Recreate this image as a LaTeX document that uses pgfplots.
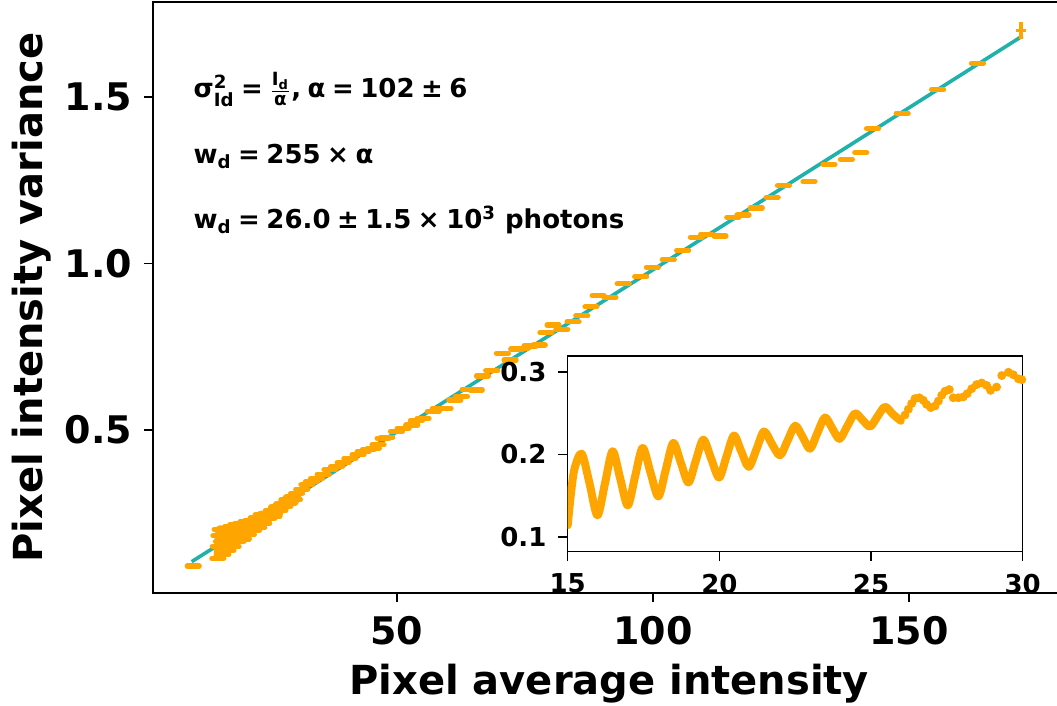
\documentclass[border=0pt]{standalone}
\usepackage{pgfplots}
\pgfplotsset{compat=1.18}
\usepackage{pgfplotstable}
\usepackage{amsmath}
\usepackage{fontspec}
\setmainfont{DejaVu Sans}
\usetikzlibrary{calc}
\definecolor{dataorange}{RGB}{255,165,0}
\definecolor{fitteal}{RGB}{32,178,170}
\newcommand{\gp}{\hspace{0.25em}}

\pgfplotstableread{
x y
10.2 0.091
28.5 0.290
29.5 0.298
30.4 0.310
31.4 0.322
32.4 0.335
33.3 0.345
34.3 0.355
35.6 0.367
36.9 0.380
38.2 0.390
39.5 0.402
40.8 0.415
42.4 0.425
43.4 0.435
44.4 0.440
45.4 0.445
46.3 0.455
47.3 0.475
48.0 0.478
49.9 0.495
51.2 0.505
52.9 0.515
53.8 0.528
55.1 0.535
57.1 0.555
58.1 0.565
59.4 0.565
61.3 0.590
62.6 0.600
63.9 0.622
65.5 0.620
66.7 0.662
68.5 0.678
70.6 0.730
72.1 0.710
73.4 0.743
74.4 0.745
76.0 0.752
77.8 0.755
79.1 0.792
80.5 0.815
82.2 0.802
84.4 0.825
86.1 0.843
87.9 0.870
89.3 0.903
91.6 0.899
94.2 0.939
97.6 0.960
99.9 0.989
103.0 1.011
105.8 1.039
108.5 1.079
110.5 1.088
113.1 1.083
115.6 1.139
117.6 1.146
120.2 1.167
123.3 1.199
125.5 1.234
130.5 1.246
134.4 1.298
137.8 1.313
140.6 1.333
142.9 1.405
148.7 1.452
155.6 1.522
163.4 1.602
}\mainpts

\pgfplotstableread{
x y
15.00 0.114
15.10 0.150
15.22 0.182
15.46 0.201
15.72 0.165
15.98 0.126
16.23 0.165
16.48 0.204
16.73 0.171
16.98 0.138
17.22 0.173
17.47 0.208
17.73 0.178
17.99 0.149
18.23 0.181
18.48 0.214
18.73 0.190
18.98 0.166
19.22 0.192
19.47 0.218
19.73 0.195
19.99 0.172
20.23 0.197
20.48 0.223
20.72 0.204
20.97 0.185
21.22 0.206
21.47 0.228
21.73 0.213
22.00 0.199
22.25 0.217
22.50 0.235
22.75 0.221
22.99 0.207
23.23 0.226
23.48 0.245
23.72 0.232
23.96 0.219
24.21 0.234
24.47 0.250
24.72 0.242
24.97 0.234
25.21 0.246
25.46 0.258
25.72 0.249
25.98 0.241
}\osc

\pgfplotstableread{
x y
26.12 0.248
26.23 0.255
26.34 0.262
26.45 0.268
26.59 0.269
26.72 0.266
26.83 0.261
26.97 0.257
27.11 0.259
27.22 0.265
27.33 0.272
27.44 0.277
27.58 0.279
27.71 0.269
27.88 0.269
28.04 0.270
28.17 0.274
28.32 0.280
28.48 0.285
28.65 0.287
28.81 0.284
28.94 0.278
29.14 0.282
29.31 0.296
29.53 0.300
29.69 0.297
29.86 0.292
29.97 0.291
}\oscb

\begin{document}
\begin{tikzpicture}
\begin{axis}[
  name=main,
  scale only axis,
  width=455.85pt, height=295.65pt,
  xmin=2.4, xmax=180.5, ymin=0.009, ymax=1.786,
  xtick={50,100,150}, ytick={0.5,1,1.5},
  yticklabel style={xshift=-2.5pt, /pgf/number format/.cd, fixed, fixed zerofill, precision=1},
  xticklabel style={yshift=-3.5pt},
  /pgf/number format/assume math mode=true,
  tick align=outside, tick pos=left,
  major tick length=4.6pt,
  axis line style={line width=0.8pt},
  every tick/.style={black, line width=0.8pt},
  ticklabel style={font=\fontsize{19}{23}\selectfont\bfseries},
  xlabel={Pixel average intensity},
  ylabel={Pixel intensity variance},
  every axis x label/.style={at={(axis description cs:0.5,-0.172)}, anchor=base, font=\fontsize{20}{24}\selectfont\bfseries},
  every axis y label/.style={at={(axis description cs:-0.122,0.5)}, anchor=base, rotate=90, font=\fontsize{20}{24}\selectfont\bfseries},
]
\addplot[fitteal, line width=1.8pt] coordinates {(9.9,0.104) (172.2,1.684)};
\addplot[dataorange, line width=4.2pt, line join=round, mark=-, mark size=3pt, mark options={line width=2.6pt, line cap=round}] table {\osc};
\addplot[dataorange, only marks, mark=-, mark size=3pt, mark options={line width=2.6pt, line cap=round}] table {\oscb};
\addplot[dataorange, only marks, mark=-, mark size=3pt, mark options={line width=2.6pt, line cap=round}] table {\mainpts};
\addplot[dataorange, only marks, mark=-, mark size=2.5pt, mark options={line width=1.5pt},
  error bars/.cd, y dir=both, y explicit, error bar style={line width=1.5pt},
  error mark options={mark size=3pt, line width=1.8pt}]
  coordinates {(171.9,1.700) +- (0,0.008)};
\node[anchor=base west, inner sep=0pt, font=\fontsize{13}{16}\selectfont\bfseries] at (axis cs:10.2,1.500)
  {σ$^{\text{2}}_{\text{Id}}$\gp=\gp$\frac{\text{I}_{\text{d}}}{\text{α}}$,\gp α\gp=\gp102\gp±\gp6};
\node[anchor=base west, inner sep=0pt, font=\fontsize{13}{16}\selectfont\bfseries] at (axis cs:10.2,1.302)
  {w$_{\text{d}}$\gp=\gp255\gp×\gp α};
\node[anchor=base west, inner sep=0pt, font=\fontsize{13}{16}\selectfont\bfseries] at (axis cs:10.2,1.106)
  {w$_{\text{d}}$\gp=\gp26.0\gp±\gp1.5\gp×\gp10$^{\text{3}}$ photons};
\end{axis}

\begin{axis}[
  at={($(main.south west)+(207.2pt,20.8pt)$)}, anchor=south west,
  scale only axis,
  width=227.5pt, height=97.85pt,
  xmin=15, xmax=30, ymin=0.0818, ymax=0.3198,
  xtick={15,20,25,30}, ytick={0.1,0.2,0.3},
  yticklabel style={xshift=-2.5pt, /pgf/number format/.cd, fixed, fixed zerofill, precision=1},
  xticklabel style={yshift=-3pt},
  /pgf/number format/assume math mode=true,
  tick align=outside, tick pos=left,
  major tick length=4.6pt,
  axis line style={line width=0.8pt},
  every tick/.style={black, line width=0.8pt},
  ticklabel style={font=\fontsize{13}{16}\selectfont\bfseries},
  axis background/.style={fill=white},
]
\addplot[dataorange, line width=4pt, smooth, line cap=round, line join=round] table {\osc};
\addplot[dataorange, only marks, mark=*, mark size=2pt] table {\oscb};
\end{axis}

\pgfresetboundingbox
\path[use as bounding box] ([shift={(-76.65pt,-56.35pt)}]main.south west) rectangle ([shift={(451.85pt,1pt)}]main.north west);
\end{tikzpicture}
\end{document}
